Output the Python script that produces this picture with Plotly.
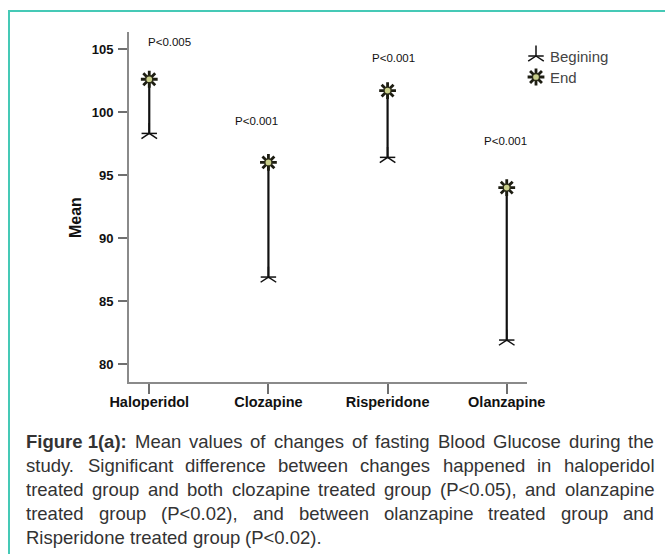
import plotly.graph_objects as go

# ---- data -------------------------------------------------------------
drugs = ["Haloperidol", "Clozapine", "Risperidone", "Olanzapine"]
begin_mean = [98.3, 86.9, 96.4, 81.9]
end_mean = [102.6, 96.0, 101.7, 94.0]
p_values = ["P<0.005", "P<0.001", "P<0.001", "P<0.001"]
y_ticks = [80, 85, 90, 95, 100, 105]
series_names = ["Begining", "End"]

caption_lead = "Figure 1(a):"
caption_lines = [
    "Mean values of changes of fasting Blood Glucose during the",
    "study. Significant difference between changes happened in haloperidol",
    "treated group and both clozapine treated group (P<0.05), and olanzapine",
    "treated group (P<0.02), and between olanzapine treated group and",
    "Risperidone treated group (P<0.02).",
]

# ---- layout geometry (pixels) -----------------------------------------
W, H = 665, 554
PLOT_L, PLOT_R, PLOT_T, PLOT_B = 129, 527, 32, 382
X_RANGE = [-0.17, 3.17]
Y_RANGE = [78.57, 106.35]
FONT = "Liberation Sans, Arial, sans-serif"
AXIS_GREY = "#8a8a8a"
INK = "#111111"

# offsets (px) of each P label from its "End" marker
p_label_shift = [(20, 37), (-12, 41), (6, 33), (-1, 47)]

# caption block
CAP_LEFT, CAP_RIGHT = 25, 653
CAP_TOP, CAP_STEP = 441, 24
CAP_SIZE = 18.5
CAP_COLOR = "#333333"

# Arial / Liberation Sans advance widths (1/1000 em)
REG = {" ": 278, ".": 278, ",": 278, ":": 278, "(": 333, ")": 333, "<": 584}
REG.update({d: 556 for d in "0123456789"})
REG.update(dict(zip("abcdefghijklmnopqrstuvwxyz",
                    [556, 556, 500, 556, 556, 278, 556, 556, 222, 222, 500, 222, 833,
                     556, 556, 556, 556, 333, 500, 278, 556, 500, 722, 500, 500, 500])))
REG.update(dict(zip("ABCDEFGHIJKLMNOPQRSTUVWXYZ",
                    [667, 667, 722, 722, 667, 611, 778, 722, 278, 500, 667, 556, 833,
                     722, 778, 667, 778, 722, 667, 611, 722, 667, 944, 667, 667, 611])))
BOLD = {"F": 611, "i": 278, "g": 611, "u": 611, "r": 389, "e": 556, " ": 278,
        "1": 556, "(": 333, "a": 556, ")": 333, ":": 333}


def text_px(s, size, bold=False):
    table = BOLD if bold else REG
    return sum(table.get(ch, 556) for ch in s) * size / 1000.0


fig = go.Figure()

# connecting segments between beginning and end means
seg_x, seg_y = [], []
for d, b, e in zip(drugs, begin_mean, end_mean):
    seg_x += [d, d, None]
    seg_y += [b, e, None]
fig.add_trace(go.Scatter(x=seg_x, y=seg_y, mode="lines",
                         line=dict(color=INK, width=2.2),
                         hoverinfo="skip", showlegend=False))

begin_marks = [dict(symbol="y-up-open", size=13, color=INK, line=dict(color=INK, width=1.5)),
               dict(symbol="line-ew-open", size=11, color=INK, line=dict(color=INK, width=1.5))]
end_marks = [dict(symbol="asterisk-open", size=14, color="#1d1d12",
                  line=dict(color="#1d1d12", width=2.8)),
             dict(symbol="circle", size=7, color="#c9cf8a",
                  line=dict(color="#2b2b18", width=1.3))]

for mk in begin_marks:
    fig.add_trace(go.Scatter(x=drugs, y=begin_mean, mode="markers", marker=mk,
                             name=series_names[0], showlegend=False, cliponaxis=False))
for mk in end_marks:
    fig.add_trace(go.Scatter(x=drugs, y=end_mean, mode="markers", marker=mk,
                             name=series_names[1], showlegend=False, cliponaxis=False))

# key glyphs, drawn on a full-page pixel subplot
key_x, key_y = [536, 536], [56, 77]
for mk in begin_marks:
    fig.add_trace(go.Scatter(x=[key_x[0]], y=[key_y[0]], mode="markers", marker=mk,
                             xaxis="x2", yaxis="y2", showlegend=False, hoverinfo="skip",
                             cliponaxis=False))
for mk in end_marks:
    fig.add_trace(go.Scatter(x=[key_x[1]], y=[key_y[1]], mode="markers", marker=mk,
                             xaxis="x2", yaxis="y2", showlegend=False, hoverinfo="skip",
                             cliponaxis=False))

annotations = []
for name, ky in zip(series_names, key_y):
    annotations.append(dict(x=549, y=ky, xref="x2", yref="y2", text=name, showarrow=False,
                            xanchor="left", yanchor="middle", borderpad=0,
                            font=dict(family=FONT, size=15, color="#444444")))

# P-value labels above the end markers
for d, e, p, (dx, dy) in zip(drugs, end_mean, p_values, p_label_shift):
    annotations.append(dict(x=d, y=e, xref="x", yref="y", text=p, showarrow=False,
                            xshift=dx, yshift=dy, xanchor="center", yanchor="middle",
                            font=dict(family=FONT, size=11.5, color=INK)))

# y axis title
annotations.append(dict(x=75, y=218, xref="x2", yref="y2", text="<b>Mean</b>",
                        showarrow=False, textangle=-90,
                        font=dict(family=FONT, size=16, color=INK)))

# justified caption, placed word by word
for i, line in enumerate(caption_lines):
    chunks = [(w, False) for w in line.split(" ")]
    if i == 0:
        chunks = [(caption_lead, True)] + chunks
    widths = [text_px(w, CAP_SIZE, b) for w, b in chunks]
    last = i == len(caption_lines) - 1
    if last or len(chunks) < 2:
        gap = text_px(" ", CAP_SIZE)
    else:
        gap = (CAP_RIGHT - CAP_LEFT - sum(widths)) / (len(chunks) - 1)
    x = CAP_LEFT
    y = CAP_TOP + i * CAP_STEP
    for (w, b), wd in zip(chunks, widths):
        annotations.append(dict(x=x, y=y, xref="x2", yref="y2",
                                text=f"<b>{w}</b>" if b else w, showarrow=False,
                                xanchor="left", yanchor="middle", borderpad=0,
                                font=dict(family=FONT, size=CAP_SIZE, color=CAP_COLOR)))
        x += wd + gap

# teal frame
shapes = [dict(type="path", xref="x2", yref="y2", path=f"M9,{H + 5} L9,11 L{W + 5},11",
               line=dict(color="#45c9b6", width=2))]

fig.update_layout(
    width=W, height=H, autosize=False,
    margin=dict(l=0, r=0, t=0, b=0, pad=0),
    paper_bgcolor="white", plot_bgcolor="rgba(0,0,0,0)",
    showlegend=False,
    annotations=annotations, shapes=shapes,
    xaxis=dict(domain=[PLOT_L / W, PLOT_R / W], type="category", range=X_RANGE,
               showline=True, linecolor=AXIS_GREY, linewidth=2, mirror=False,
               ticks="outside", ticklen=10, tickwidth=2, tickcolor="#6f6f6f",
               showgrid=False, zeroline=False, automargin=False, ticklabelstandoff=-4,
               tickfont=dict(family=FONT, size=14.5, color=INK, weight="bold")),
    yaxis=dict(domain=[1 - PLOT_B / H, 1 - PLOT_T / H], range=Y_RANGE,
               tickvals=y_ticks, showline=True, linecolor=AXIS_GREY, linewidth=2,
               ticks="outside", ticklen=9, tickwidth=2, tickcolor="#6f6f6f",
               showgrid=False, zeroline=False, automargin=False, ticklabelstandoff=2,
               tickfont=dict(family=FONT, size=13, color=INK, weight="bold")),
    xaxis2=dict(domain=[0, 1], range=[0, W], visible=False, anchor="y2", fixedrange=True),
    yaxis2=dict(domain=[0, 1], range=[H, 0], visible=False, anchor="x2", fixedrange=True),
)

fig.write_html("out.html")
